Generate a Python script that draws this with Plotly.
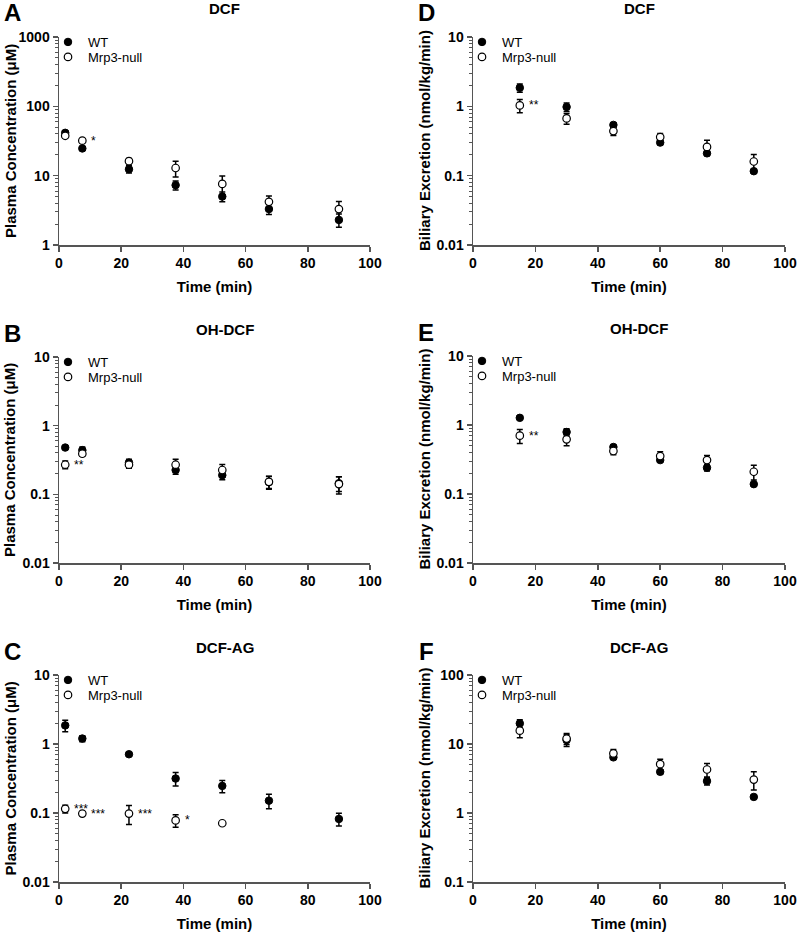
import math
import plotly.graph_objects as go

W, H = 799, 934

# ---------------- data ----------------
plasma_time = [2, 7.5, 22.5, 37.5, 52.5, 67.5, 90]
bile_time = [15, 30, 45, 60, 75, 90]

A_wt = [41.5, 24.7, 12.4, 7.3, 5.0, 3.3, 2.3]
A_wt_err = [3, 1.5, 1.5, 1.1, 0.8, 0.55, 0.5]
A_ko = [37.6, 32, 16.2, 12.9, 7.6, 4.2, 3.3]
A_ko_err = [2, 2, 1.5, 3.3, 2.3, 0.9, 0.95]
A_sig = ["", "*", "", "", "", "", ""]

B_wt = [0.48, 0.44, 0.29, 0.226, 0.19, 0.151, 0.145]
B_wt_err = [0.02, 0.05, 0.035, 0.03, 0.027, 0.032, 0.035]
B_ko = [0.27, 0.39, 0.27, 0.27, 0.226, 0.152, 0.141]
B_ko_err = [0.035, 0.03, 0.03, 0.055, 0.045, 0.03, 0.04]
B_sig = ["**", "", "", "", "", "", ""]

C_wt = [1.86, 1.20, 0.71, 0.316, 0.247, 0.151, 0.082]
C_wt_err = [0.35, 0.12, 0.04, 0.07, 0.05, 0.036, 0.017]
C_ko = [0.115, 0.098, 0.098, 0.078, 0.071, None, None]
C_ko_err = [0.015, 0.005, 0.03, 0.016, 0.003, 0, 0]
C_sig = ["***", "***", "***", "*", "", "", ""]

D_wt = [1.85, 0.98, 0.54, 0.30, 0.21, 0.116]
D_wt_err = [0.25, 0.14, 0.04, 0.02, 0.015, 0.008]
D_ko = [1.03, 0.67, 0.44, 0.36, 0.26, 0.16]
D_ko_err = [0.22, 0.12, 0.06, 0.045, 0.065, 0.042]
D_sig = ["**", "", "", "", "", ""]

E_wt = [1.27, 0.79, 0.48, 0.31, 0.24, 0.139]
E_wt_err = [0.06, 0.09, 0.03, 0.02, 0.025, 0.008]
E_ko = [0.70, 0.62, 0.42, 0.355, 0.31, 0.21]
E_ko_err = [0.16, 0.12, 0.05, 0.055, 0.05, 0.05]
E_sig = ["**", "", "", "", "", ""]

F_wt = [19.9, 11.4, 6.4, 3.95, 2.9, 1.71]
F_wt_err = [2.5, 2.2, 0.4, 0.3, 0.35, 0.1]
F_ko = [15.6, 12.0, 7.3, 5.1, 4.27, 3.05]
F_ko_err = [3.3, 2.2, 1.0, 0.9, 0.95, 0.9]
F_sig = ["", "", "", "", "", ""]

# ---------------- layout helpers ----------------
FONT = "Liberation Sans, Arial, sans-serif"
AX = "#555555"

panels = [
    # letter, title, ytitle, x, wt, wterr, ko, koerr, sig, yrange(log), box(l,r,t,b)
    ("A", "DCF", "Plasma Concentration (\u03bcM)", plasma_time, A_wt, A_wt_err, A_ko, A_ko_err, A_sig, (0, 3), (59, 370, 37, 245)),
    ("B", "OH-DCF", "Plasma Concentration (\u03bcM)", plasma_time, B_wt, B_wt_err, B_ko, B_ko_err, B_sig, (-2, 1), (59, 370, 357, 563)),
    ("C", "DCF-AG", "Plasma Concentration (\u03bcM)", plasma_time, C_wt, C_wt_err, C_ko, C_ko_err, C_sig, (-2, 1), (59, 370, 675, 882)),
    ("D", "DCF", "Biliary Excretion (nmol/kg/min)", bile_time, D_wt, D_wt_err, D_ko, D_ko_err, D_sig, (-2, 1), (473, 785, 37, 245)),
    ("E", "OH-DCF", "Biliary Excretion (nmol/kg/min)", bile_time, E_wt, E_wt_err, E_ko, E_ko_err, E_sig, (-2, 1), (473, 785, 356, 563)),
    ("F", "DCF-AG", "Biliary Excretion (nmol/kg/min)", bile_time, F_wt, F_wt_err, F_ko, F_ko_err, F_sig, (-1, 2), (473, 785, 675, 882)),
]

def px(x):
    return x / W

def py(y):
    return 1 - y / H

def legname(k):
    return "legend" if k == 1 else "legend%d" % k

fig = go.Figure()
annotations = []
layout = {}

for i, (letter, title, ytitle, xs, wt, wterr, ko, koerr, sig, yr, box) in enumerate(panels):
    n = i + 1
    sfx = "" if n == 1 else str(n)
    xa, ya = "x" + sfx, "y" + sfx
    leg_wt = legname(2 * i + 1)
    leg_ko = legname(2 * i + 2)
    l, r, t, b = box

    fig.add_trace(go.Scatter(
        x=xs, y=wt, mode="markers", name="WT", xaxis=xa, yaxis=ya, legend=leg_wt,
        marker=dict(symbol="circle", size=7.5, color="black", line=dict(color="black", width=1)),
        error_y=dict(type="data", array=wterr, color="black", thickness=1.5, width=3),
        cliponaxis=False,
    ))
    fig.add_trace(go.Scatter(
        x=xs, y=ko, mode="markers", name="Mrp3-null", xaxis=xa, yaxis=ya, legend=leg_ko,
        marker=dict(symbol="circle", size=7.5, color="white", line=dict(color="black", width=1.2)),
        error_y=dict(type="data", array=koerr, color="black", thickness=1.5, width=3),
        cliponaxis=False,
    ))

    majors = [10 ** k for k in range(yr[0], yr[1] + 1)]
    minors = [m * 10 ** k for k in range(yr[0], yr[1]) for m in range(2, 10)]
    ticktext = [("%g" % v) for v in majors]

    layout["xaxis" + sfx] = dict(
        domain=[px(l), px(r)], anchor=ya, range=[0, 100], automargin=False,
        tickvals=[0, 20, 40, 60, 80, 100], ticks="outside", ticklen=5, tickwidth=1.5,
        tickcolor=AX, showline=True, linecolor=AX, linewidth=1.5, showgrid=False,
        zeroline=False, tickfont=dict(family=FONT, size=14, color="black", weight="bold"),
        title=dict(text="Time (min)", font=dict(family=FONT, size=15, color="black", weight="bold"), standoff=11),
    )
    layout["yaxis" + sfx] = dict(
        domain=[py(b), py(t)], anchor=xa, type="log", range=list(yr), automargin=False,
        tickmode="array", tickvals=majors, ticktext=ticktext,
        ticks="outside", ticklen=5, tickwidth=1.5, tickcolor=AX,
        minor=dict(tickmode="array", tickvals=minors, ticks="outside", ticklen=3, tickwidth=1, tickcolor=AX),
        showline=True, linecolor=AX, linewidth=1.5, showgrid=False, zeroline=False,
        tickfont=dict(family=FONT, size=14, color="black", weight="bold"),
    )
    for leg, yoff in ((leg_wt, 5), (leg_ko, 20)):
        layout[leg] = dict(
            x=px(l - 11), y=py(t + yoff), xanchor="left", yanchor="middle",
            bgcolor="rgba(0,0,0,0)", font=dict(family=FONT, size=13, color="black"),
            itemclick=False, itemdoubleclick=False,
        )

    # panel letter
    annotations.append(dict(text="<b>%s</b>" % letter, x=px(l - 47), y=py(t - 24), xref="paper", yref="paper",
                            xanchor="center", yanchor="middle", showarrow=False,
                            font=dict(family=FONT, size=24, color="black")))
    # panel title
    annotations.append(dict(text="<b>%s</b>" % title, x=px((l + r) / 2 + 10), y=py(t - 28), xref="paper", yref="paper",
                            xanchor="center", yanchor="middle", showarrow=False,
                            font=dict(family=FONT, size=15, color="black")))
    # y title
    annotations.append(dict(text="<b>%s</b>" % ytitle, x=px(l - 49), y=py((t + b) / 2), xref="paper", yref="paper",
                            xanchor="center", yanchor="middle", textangle=-90, showarrow=False,
                            font=dict(family=FONT, size=15, color="black")))
    # significance marks (log axis: annotation y is given in log10 units)
    for xv, yv, s in zip(xs, ko, sig):
        if s and yv is not None:
            annotations.append(dict(text=s, x=xv, y=math.log10(yv), xref=xa, yref=ya, xanchor="left", yanchor="middle",
                                    xshift=7, yshift=0, showarrow=False,
                                    font=dict(family=FONT, size=12, color="black")))

fig.update_layout(
    width=W, height=H, margin=dict(l=0, r=0, t=0, b=0, autoexpand=False),
    paper_bgcolor="white", plot_bgcolor="white",
    annotations=annotations, showlegend=True, hovermode=False,
    **layout,
)

fig.write_html("out.html", config={"displayModeBar": False, "staticPlot": True},
               post_script="document.body.style.margin='0px';")
